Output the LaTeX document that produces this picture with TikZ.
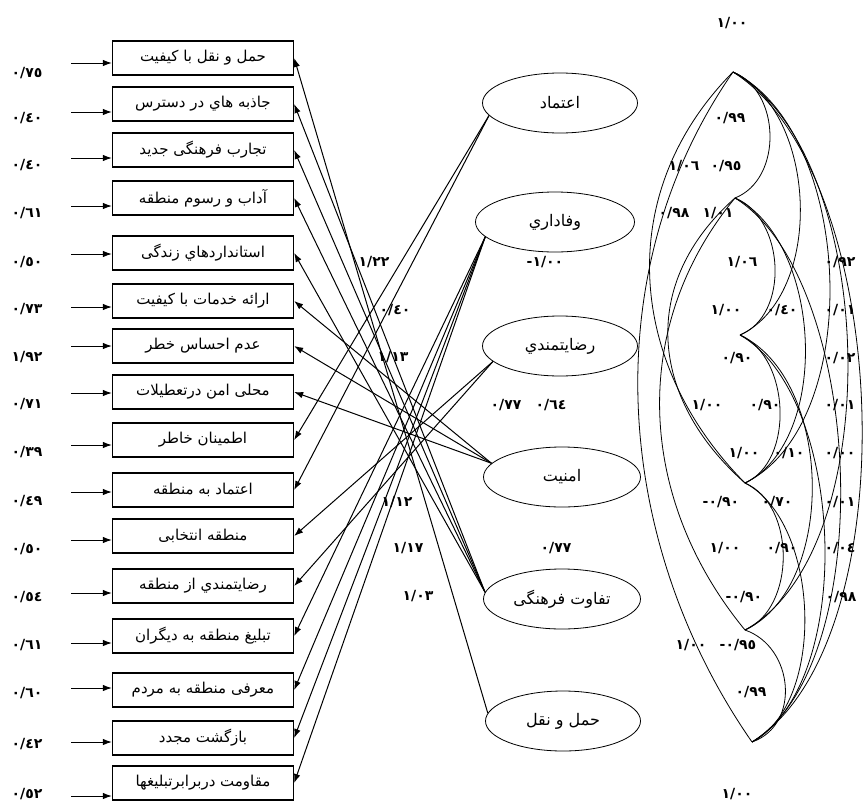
\documentclass[tikz,border=0pt]{standalone}
\usepackage{fontspec}
\usetikzlibrary{shapes.geometric,arrows.meta,calc}
\newfontfamily\fa[Script=Arabic]{DejaVu Sans}
\TeXXeTstate=1
\newcommand{\ngv}[1]{\hbox{-}\hbox{#1}}
\begin{document}
\begin{tikzpicture}[x=1pt,y=-1pt,
 box/.style={draw,line width=1.3pt,minimum width=181pt,minimum height=34pt,inner sep=0pt,font=\fa\fontsize{15}{17}\selectfont},
 ell/.style={draw,ellipse,line width=0.8pt,minimum width=155pt,minimum height=60pt,inner sep=0pt,font=\fa\fontsize{16}{18}\selectfont},
 num/.style={font=\fa\bfseries\fontsize{14}{16}\selectfont,inner sep=0pt},
 arr/.style={line width=1pt,-{Latex[length=9pt,width=6.5pt]}},
 cor/.style={line width=0.8pt}
]
\useasboundingbox (0,0) rectangle (867,803);

% indicator boxes
\node[box] (b1)  at (203,58)  {\beginR حمل و نقل با کیفیت\endR};
\node[box] (b2)  at (203,104) {\beginR جاذبه هاي در دسترس\endR};
\node[box] (b3)  at (203,150) {\beginR تجارب فرهنگی جدید\endR};
\node[box] (b4)  at (203,198) {\beginR آداب و رسوم منطقه\endR};
\node[box] (b5)  at (203,253) {\beginR استانداردهاي زندگی\endR};
\node[box] (b6)  at (203,301) {\beginR ارائه خدمات با کیفیت\endR};
\node[box] (b7)  at (203,346) {\beginR عدم احساس خطر\endR};
\node[box] (b8)  at (203,392) {\beginR محلی امن درتعطیلات\endR};
\node[box] (b9)  at (203,440) {\beginR اطمینان خاطر\endR};
\node[box] (b10) at (203,490) {\beginR اعتماد به منطقه\endR};
\node[box] (b11) at (203,536) {\beginR منطقه انتخابی\endR};
\node[box] (b12) at (203,586) {\beginR رضایتمندي از منطقه\endR};
\node[box] (b13) at (203,636) {\beginR تبلیغ منطقه به دیگران\endR};
\node[box] (b14) at (203,690) {\beginR معرفی منطقه به مردم\endR};
\node[box] (b15) at (203,738) {\beginR بازگشت مجدد\endR};
\node[box] (b16) at (203,783) {\beginR مقاومت دربرابرتبلیغها\endR};

% error arrows
\foreach \i/\y in {1/63,2/112,3/158,4/206,5/254,6/307,7/346,8/393,9/445,10/492,11/540,12/593,13/643,14/688,15/742,16/796}{
  \coordinate (s\i) at (71,\y);
  \draw[arr] (s\i) -- (s\i -| b\i.west);
}
% error labels
\node[num] (l1)  at (27,73)  {٠/٧٥};
\node[num] (l2)  at (27,118) {٠/٤٠};
\node[num] (l3)  at (27,165) {٠/٤٠};
\node[num] (l4)  at (27,213) {٠/٦١};
\node[num] (l5)  at (27,262) {٠/٥٠};
\node[num] (l6)  at (27,309) {٠/٧٣};
\node[num] (l7)  at (27,357) {١/٩٢};
\node[num] (l8)  at (27,404) {٠/٧١};
\node[num] (l9)  at (27,452) {٠/٣٩};
\node[num] (l10) at (27,501) {٠/٤٩};
\node[num] (l11) at (27,549) {٠/٥٠};
\node[num] (l12) at (27,597) {٠/٥٤};
\node[num] (l13) at (27,645) {٠/٦١};
\node[num] (l14) at (27,693) {٠/٦٠};
\node[num] (l15) at (27,744) {٠/٤٢};
\node[num] (l16) at (27,794) {٠/٥٢};

% latent ellipses
\node[ell] (e1) at (560,103) {\beginR اعتماد\endR};
\node[ell,minimum width=159pt] (e2) at (555,222) {\beginR وفاداري\endR};
\node[ell] (e3) at (560,346) {\beginR رضایتمندي\endR};
\node[ell,minimum width=157pt] (e4) at (562,477) {\beginR امنیت\endR};
\node[ell,minimum width=157pt] (e5) at (562,599) {\beginR تفاوت فرهنگی\endR};
\node[ell] (e6) at (563,721) {\beginR حمل و نقل\endR};

% loadings
\draw[arr] (e6.174) -- (b1.east);
\foreach \b in {2,3,4,5} \draw[arr] (e5.175) -- (b\b.east);
\foreach \b in {6,7,8} \draw[arr] (e4.169) -- (b\b.east);
\foreach \b in {9,10} \draw[arr] (e1.190) -- (b\b.east);
\foreach \b in {11,12} \draw[arr] (e3.193) -- (b\b.east);
\foreach \b in {13,14,15,16} \draw[arr] (e2.192) -- (b\b.east);

% middle labels
\node[num] (m1) at (374,262) {١/٢٢};
\node[num] (m2) at (395,310) {٠/٤٠};
\node[num] (m3) at (393,357) {١/١٣};
\node[num] (m4) at (545,262) {\ngv{١/٠٠}};
\node[num] (m5) at (506,405) {٠/٧٧};
\node[num] (m6) at (551,405) {٠/٦٤};
\node[num] (m7) at (397,502) {١/١٢};
\node[num] (m8) at (408,548) {١/١٧};
\node[num] (m9) at (418,596) {١/٠٣};
\node[num] (m10) at (556,548) {٠/٧٧};

% correlation points
\coordinate (p1) at (733,72);
\coordinate (p2) at (735,198);
\coordinate (p3) at (740,335);
\coordinate (p4) at (745,483);
\coordinate (p5) at (745,630);
\coordinate (p6) at (752,742);

% right-bulging correlations
\foreach \a/\b/\c/\d in {p1/p2/48/19, p1/p3/85/40, p1/p4/121/60, p1/p5/145/80, p1/p6/159/100,
  p2/p3/50/20, p2/p4/87/43, p2/p6/129/80, p3/p4/50/22, p3/p5/93/44, p3/p6/105/60,
  p4/p5/51/22, p4/p6/75/39, p5/p6/49/17}{
  \draw[cor] (\a) .. controls ($(\a)+(\c,\d)$) and ($(\b)+(\c,-\d)$) .. (\b);
}
% left-bulging correlations
\foreach \a/\b/\c/\d in {p1/p6/-139/200, p1/p4/-119/120, p2/p4/-96/85, p2/p5/-107/130}{
  \draw[cor] (\a) .. controls ($(\a)+(\c,\d)$) and ($(\b)+(\c,-\d)$) .. (\b);
}

% correlation labels
\node[num] (r1)  at (732,23)  {١/٠٠};
\node[num] (r2)  at (730,118) {٠/٩٩};
\node[num] (r3)  at (684,166) {١/٠٦};
\node[num] (r4)  at (726,166) {٠/٩٥};
\node[num] (r5)  at (674,213) {٠/٩٨};
\node[num] (r6)  at (718,213) {١/٠١};
\node[num] (r7)  at (742,262) {١/٠٦};
\node[num] (r8)  at (840,262) {٠/٩٢};
\node[num] (r9)  at (726,310) {١/٠٠};
\node[num] (r10) at (782,310) {٠/٤٠};
\node[num] (r11) at (840,310) {٠/٠١};
\node[num] (r12) at (737,358) {٠/٩٠};
\node[num] (r13) at (840,358) {٠/٠٢};
\node[num] (r14) at (707,405) {١/٠٠};
\node[num] (r15) at (765,405) {٠/٩٠};
\node[num] (r16) at (840,405) {٠/٠١};
\node[num] (r17) at (744,453) {١/٠٠};
\node[num] (r18) at (789,453) {٠/١٠};
\node[num] (r19) at (840,453) {٠/٠٠};
\node[num] (r20) at (721,502) {\ngv{٠/٩٠}};
\node[num] (r21) at (777,502) {٠/٧٠};
\node[num] (r22) at (840,502) {٠/٠١};
\node[num] (r23) at (725,548) {١/٠٠};
\node[num] (r24) at (782,548) {٠/٩٠};
\node[num] (r25) at (840,548) {٠/٠٤};
\node[num] (r26) at (744,597) {\ngv{٠/٩٠}};
\node[num] (r27) at (841,597) {٠/٩٨};
\node[num] (r28) at (691,645) {١/٠٠};
\node[num] (r29) at (738,645) {\ngv{٠/٩٥}};
\node[num] (r30) at (751,692) {٠/٩٩};
\node[num] (r31) at (737,794) {١/٠٠};
\end{tikzpicture}
\end{document}
